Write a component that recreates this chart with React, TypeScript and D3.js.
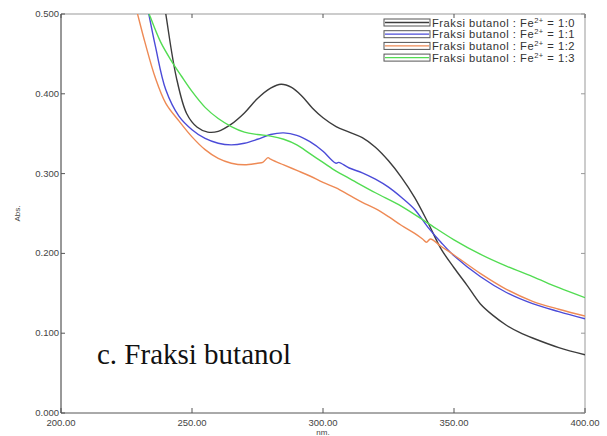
import * as d3 from 'd3'

// absorbance spectra
const nm10 = [232, 236, 240, 244, 248, 252, 256, 260, 265, 270, 275, 280, 284, 288, 292, 296, 300, 305, 310, 315, 320, 325, 330, 335, 340, 345, 350, 355, 360, 365, 370, 375, 380, 390, 400]
const abs10 = [0.69, 0.59, 0.5, 0.421, 0.375, 0.358, 0.352, 0.353, 0.362, 0.376, 0.394, 0.407, 0.412, 0.408, 0.397, 0.382, 0.37, 0.359, 0.352, 0.345, 0.333, 0.316, 0.295, 0.27, 0.239, 0.206, 0.182, 0.16, 0.137, 0.122, 0.11, 0.101, 0.094, 0.082, 0.073]

const nm11 = [228, 232, 236, 240, 245, 250, 255, 260, 265, 270, 275, 280, 285, 290, 295, 300, 303, 305, 306, 310, 315, 320, 325, 330, 335, 340, 345, 350, 360, 370, 380, 390, 400]
const abs11 = [0.59, 0.525, 0.46, 0.405, 0.372, 0.355, 0.344, 0.338, 0.336, 0.338, 0.343, 0.349, 0.351, 0.348, 0.34, 0.328, 0.318, 0.313, 0.314, 0.307, 0.301, 0.293, 0.283, 0.27, 0.255, 0.233, 0.214, 0.197, 0.171, 0.151, 0.137, 0.127, 0.118]

const nm12 = [224, 228, 232, 236, 240, 245, 250, 255, 260, 265, 270, 275, 277, 279, 280, 282, 285, 290, 295, 300, 305, 310, 315, 320, 325, 330, 335, 338, 339.5, 341, 345, 350, 360, 370, 380, 390, 400]
const abs12 = [0.56, 0.515, 0.465, 0.42, 0.388, 0.366, 0.346, 0.33, 0.319, 0.313, 0.311, 0.313, 0.314, 0.32, 0.318, 0.315, 0.311, 0.304, 0.297, 0.289, 0.282, 0.273, 0.264, 0.256, 0.246, 0.235, 0.225, 0.218, 0.214, 0.218, 0.209, 0.198, 0.175, 0.155, 0.14, 0.13, 0.1215]

const nm13 = [226, 230, 234, 238, 242, 246, 250, 255, 260, 265, 270, 275, 280, 285, 290, 295, 300, 305, 310, 320, 330, 340, 350, 360, 370, 380, 390, 400]
const abs13 = [0.565, 0.535, 0.497, 0.465, 0.442, 0.422, 0.403, 0.383, 0.369, 0.359, 0.352, 0.349, 0.347, 0.343, 0.336, 0.325, 0.314, 0.303, 0.294, 0.276, 0.259, 0.238, 0.217, 0.199, 0.184, 0.171, 0.157, 0.1445]

const ratios = ['1:0', '1:1', '1:2', '1:3']
const colors = ['#3c3c3c', '#4b4bd8', '#ee8a55', '#52dc52']
const xTicks = [200, 250, 300, 350, 400]
const yTicks = [0, 0.1, 0.2, 0.3, 0.4, 0.5]

const W = 607
const H = 436
const left = 61
const right = 585
const top = 14
const bottom = 413

export default function App() {
  const x = d3.scaleLinear().domain([200, 400]).range([left, right])
  const y = d3.scaleLinear().domain([0, 0.5]).range([bottom, top])

  const series = [
    { nm: nm10, abs: abs10 },
    { nm: nm11, abs: abs11 },
    { nm: nm12, abs: abs12 },
    { nm: nm13, abs: abs13 },
  ]

  const line = d3
    .line<[number, number]>()
    .x(d => x(d[0]))
    .y(d => y(d[1]))
    .curve(d3.curveCatmullRom.alpha(0.5))

  const tickFont = { fontFamily: 'Arial, "Liberation Sans", sans-serif', fontSize: 9.5, fill: '#444' }

  return (
    <svg width={W} height={H} style={{ position: 'absolute', left: 0, top: 0, background: '#fff' }}>
      <defs>
        <clipPath id="plot">
          <rect x={left} y={top} width={right - left} height={bottom - top} />
        </clipPath>
      </defs>

      {/* frame */}
      <line x1={left} x2={right} y1={top} y2={top} stroke="#999" strokeWidth={1} />
      <line x1={right} x2={right} y1={top} y2={bottom} stroke="#999" strokeWidth={1} />
      <line x1={left} x2={left} y1={top} y2={bottom} stroke="#333" strokeWidth={1} />
      <line x1={left} x2={right} y1={bottom} y2={bottom} stroke="#555" strokeWidth={1} />

      {/* ticks */}
      {xTicks.map(t => (
        <g key={'x' + t}>
          <line x1={x(t)} x2={x(t)} y1={bottom} y2={bottom - 5} stroke="#555" />
          <line x1={x(t)} x2={x(t)} y1={top} y2={top + 4} stroke="#555" />
          <text x={x(t)} y={426} textAnchor="middle" {...tickFont}>
            {t.toFixed(2)}
          </text>
        </g>
      ))}
      {yTicks.map(t => (
        <g key={'y' + t}>
          <line x1={left} x2={left + 4} y1={y(t)} y2={y(t)} stroke="#555" />
          <line x1={right} x2={right - 4} y1={y(t)} y2={y(t)} stroke="#999" />
          <text x={left - 2} y={y(t) + 3} textAnchor="end" {...tickFont}>
            {t.toFixed(3)}
          </text>
        </g>
      ))}
      <text x={x(300)} y={435} textAnchor="middle" {...tickFont} fontSize={8}>
        nm.
      </text>
      <text
        transform={`translate(20,${(top + bottom) / 2}) rotate(-90)`}
        textAnchor="middle"
        {...tickFont}
        fontSize={8}
      >
        Abs.
      </text>

      {/* spectra */}
      <g clipPath="url(#plot)">
        {series.map((s, i) => (
          <path
            key={i}
            d={line(s.nm.map((n, j) => [n, s.abs[j]] as [number, number])) || ''}
            fill="none"
            stroke={colors[i]}
            strokeWidth={1.4}
          />
        ))}
      </g>

      {/* legend */}
      {ratios.map((r, i) => {
        const cy = 22.5 + i * 11.7
        return (
          <g key={r}>
            <rect x={384} y={cy - 3.5} width={46} height={7} fill="#fff" stroke="#555" strokeWidth={1} />
            <line x1={385} x2={429} y1={cy} y2={cy} stroke={colors[i]} strokeWidth={1.3} />
            <text
              x={432}
              y={cy + 4}
              fontFamily='Arial, "Liberation Sans", sans-serif'
              fontSize={11.2}
              letterSpacing={0.5}
              fill="#333"
            >
              Fraksi butanol : Fe
              <tspan dy={-4} fontSize={7.5}>2+</tspan>
              <tspan dy={4}> = {r}</tspan>
            </text>
          </g>
        )
      })}

      <text x={97} y={364} fontFamily='"Times New Roman", "Liberation Serif", serif' fontSize={29} fill="#111">
        c. Fraksi butanol
      </text>
    </svg>
  )
}
